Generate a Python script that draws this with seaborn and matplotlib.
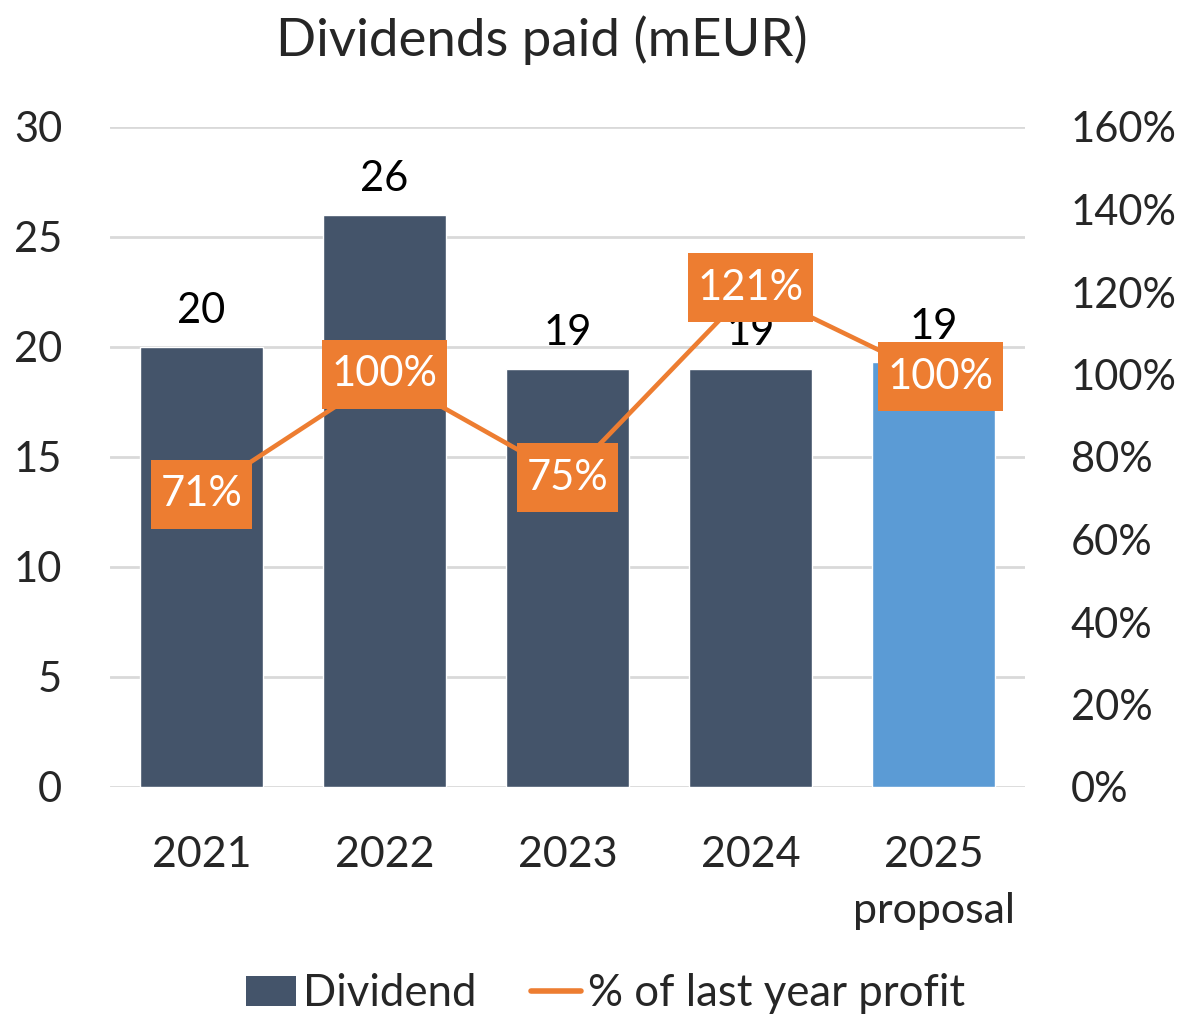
import matplotlib
matplotlib.use("Agg")
import matplotlib.pyplot as plt
import seaborn as sns
import numpy as np
import pandas as pd
from matplotlib.patches import Patch
from matplotlib.lines import Line2D
from matplotlib.path import Path

years = ["2021", "2022", "2023", "2024", "2025\nproposal"]
dividend = [20, 26, 19, 19, 19.3]
dividend_labels = ["20", "26", "19", "19", "19"]
payout_pct = [71, 100, 75, 121, 99.5]
payout_labels = ["71%", "100%", "75%", "121%", "100%"]

DARK = "#44546A"
LIGHT = "#5B9BD5"
ORANGE = "#ED7D31"

sns.set_theme(style="white")
plt.rcParams["font.family"] = ["Lato", "DejaVu Sans"]


def padbox(x0, y0, width, height, mutation_size):
    px = 0.23 * mutation_size
    py = 0.37 * mutation_size
    x1, y1 = x0 - px, y0 - py
    x2, y2 = x0 + width + px, y0 + height + py
    return Path([(x1, y1), (x2, y1), (x2, y2), (x1, y2), (x1, y1)], closed=True)


fig = plt.figure(figsize=(11.85, 10.16), dpi=100)
ax = fig.add_axes([110/1185, 1-787/1016, 915/1185, 660/1016])

df = pd.DataFrame({"year": years, "dividend": dividend})
sns.barplot(data=df, x="year", y="dividend", hue="year",
            palette=[DARK, DARK, DARK, DARK, LIGHT], width=0.667,
            legend=False, ax=ax, saturation=1, zorder=2)
for i, c in enumerate(ax.containers):
    ax.bar_label(c, labels=[dividend_labels[i]], padding=12, fontsize=30, color="black")

ax.set_ylim(0, 30)
ax.set_xlim(-0.5, 4.5)
ax.set_yticks([0, 5, 10, 15, 20, 25, 30])
ax.yaxis.grid(True, color="#D9D9D9", linewidth=2, zorder=0)
ax.set_axisbelow(True)
for s in ax.spines.values():
    s.set_visible(False)
ax.set_xlabel("")
ax.set_ylabel("")
ax.tick_params(axis="y", length=0, pad=34.5, labelsize=30)
ax.tick_params(axis="x", length=0, pad=35, labelsize=31)
for t in ax.get_xticklabels():
    t.set_linespacing(1.6)
    t.set_verticalalignment("top")

ax2 = ax.twinx()
x_pos = np.arange(len(years))
sns.lineplot(x=x_pos, y=payout_pct, color=ORANGE, linewidth=3.3, ax=ax2, zorder=3)
ax2.set_ylim(0, 160)
ax2.set_yticks(range(0, 161, 20))
ax2.set_yticklabels([f"{v}%" for v in range(0, 161, 20)])
ax2.tick_params(axis="y", length=0, pad=33, labelsize=30)
for s in ax2.spines.values():
    s.set_visible(False)
ax2.set_ylabel("")
ax2.grid(False)
offsets = [0, 0, 0, 0, 0.04]
for xi, yv, lab, off in zip(x_pos, payout_pct, payout_labels, offsets):
    ax2.annotate(lab, xy=(xi + off, yv), ha="center", va="center",
                 fontsize=30, color="white", zorder=5,
                 bbox=dict(boxstyle=padbox, fc=ORANGE, ec="none"))

fig.text(0.457, 0.960, "Dividends paid (mEUR)", ha="center", va="center", fontsize=38)

handles = [Patch(facecolor=DARK, edgecolor="none"),
           Line2D([0], [0], color=ORANGE, linewidth=4)]
fig.legend(handles, ["Dividend", "% of last year profit"], loc="center",
           bbox_to_anchor=(0.511, 0.022), ncol=2, frameon=False, fontsize=31.5,
           handlelength=1.15, handletextpad=0.15, columnspacing=1.25,
           handleheight=0.7)

fig.savefig("out.png", dpi=100)
